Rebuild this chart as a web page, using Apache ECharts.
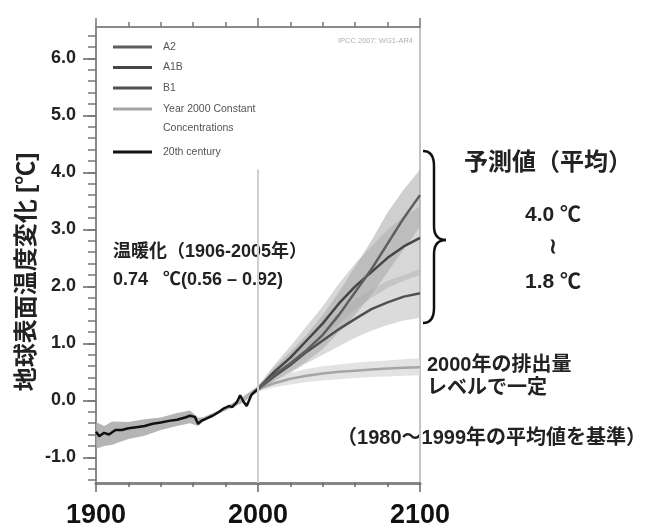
<!DOCTYPE html>
<html><head><meta charset="utf-8">
<script src="https://cdn.jsdelivr.net/npm/echarts@6/dist/echarts.min.js"></script>
<style>html,body{margin:0;padding:0;background:#fff}#c{width:652px;height:532px}</style>
</head><body><div id="c"></div>
<script>
// ---- 20th century observations (model mean) ----
const histYears  = [1900,1902,1905,1908,1912,1916,1920,1925,1930,1935,1940,1945,1950,1955,1958,1961,1963,1965,1968,1972,1976,1979,1982,1984,1987,1989,1991,1993,1996,1998,2000];
const histValues = [-0.55,-0.63,-0.57,-0.6,-0.52,-0.52,-0.49,-0.47,-0.45,-0.41,-0.39,-0.36,-0.34,-0.3,-0.27,-0.29,-0.41,-0.36,-0.32,-0.27,-0.2,-0.14,-0.1,-0.12,-0.03,0.09,-0.02,-0.1,0.1,0.15,0.2];
const histBandYears = [1900,1905,1910,1920,1930,1940,1950,1958,1963,1966,1970,1980,1990,2000];
const histBandUpper = [-0.38,-0.45,-0.37,-0.38,-0.33,-0.3,-0.22,-0.18,-0.3,-0.3,-0.25,-0.12,0.05,0.25];
const histBandLower = [-0.85,-0.8,-0.78,-0.68,-0.62,-0.52,-0.45,-0.4,-0.45,-0.38,-0.32,-0.18,-0.05,0.15];

// ---- projections ----
const projYears = [2000,2010,2020,2030,2040,2050,2060,2070,2080,2090,2100];
const a2Values    = [0.2,0.45,0.65,0.88,1.15,1.5,1.9,2.3,2.75,3.2,3.6];
const a1bValues   = [0.2,0.5,0.75,1.05,1.35,1.7,2.0,2.25,2.5,2.7,2.85];
const b1Values    = [0.2,0.42,0.62,0.85,1.05,1.25,1.43,1.6,1.72,1.82,1.88];
const constValues = [0.2,0.3,0.38,0.43,0.47,0.5,0.52,0.54,0.56,0.57,0.58];
const a2Upper  = [0.25,0.58,0.85,1.15,1.5,1.9,2.35,2.8,3.3,3.7,4.05];
const a2Lower  = [0.15,0.35,0.5,0.68,0.9,1.2,1.5,1.85,2.25,2.65,3.05];
const a1bUpper = [0.25,0.62,0.95,1.3,1.65,2.05,2.4,2.7,3.0,3.22,3.4];
const a1bLower = [0.15,0.4,0.6,0.82,1.08,1.35,1.6,1.8,1.97,2.1,2.2];
const b1Upper  = [0.25,0.52,0.8,1.08,1.32,1.55,1.77,1.95,2.1,2.2,2.3];
const b1Lower  = [0.15,0.33,0.48,0.65,0.8,0.95,1.1,1.22,1.32,1.4,1.45];
const constUpper = [0.25,0.38,0.48,0.55,0.6,0.63,0.66,0.68,0.7,0.72,0.74];
const constLower = [0.15,0.23,0.28,0.32,0.35,0.37,0.39,0.41,0.42,0.43,0.44];

// ---- ticks ----
const xTickLabels = [1900, 2000, 2100];
const yTickLabels = [-1,0,1,2,3,4,5,6];
const yMinorTicks = [-1.4,-1.2,-1,-0.8,-0.6,-0.4,-0.2,0,0.2,0.4,0.6,0.8,1,1.2,1.4,1.6,1.8,2,2.2,2.4,2.6,2.8,3,3.2,3.4,3.6,3.8,4,4.2,4.4,4.6,4.8,5,5.2,5.4,5.6,5.8,6,6.2,6.4];
const dividerYear = 2000, dividerTop = 4.05;

function zip(xs, ys){ return xs.map((x,i)=>[x, ys[i]]); }
function bandSeries(name, years, lower, upper, color, opacity){
  const data = years.map((y,i)=>[y, lower[i], upper[i]]);
  return {
    type:'custom', name, silent:true, z:1, data,
    encode:{x:0, y:[1,2]},
    renderItem(params, api){
      if (params.dataIndex !== 0) return null;
      const top = data.map(d=>api.coord([d[0], d[2]]));
      const bot = data.map(d=>api.coord([d[0], d[1]])).reverse();
      return {type:'polygon', shape:{points: top.concat(bot)}, style:{fill:color, opacity}};
    }
  };
}
function lineSeries(name, xs, ys, color, width){
  return {type:'line', name, data: zip(xs, ys), showSymbol:false, symbol:'none', z:3,
    lineStyle:{color, width}, itemStyle:{color}, silent:true};
}

const CJK = '"Liberation Sans","Noto Sans CJK JP",sans-serif';
const legendText = {fontSize:10.5, color:'#555', fontFamily:'"Liberation Sans"', padding:[0,0,0,6], lineHeight:12};
const braceStyle = {stroke:'#111', lineWidth:2.5, fill:null};
const legendBase = {orient:'vertical', left:113, padding:0, itemWidth:39, itemHeight:3, icon:'rect', selectedMode:false, textStyle:legendText};

const chart = echarts.init(document.getElementById('c'), null, {renderer:'canvas'});
chart.setOption({
  animation:false,
  backgroundColor:'#fff',
  grid:{left:96, right:232, top:27, bottom:49},
  xAxis:[
    {type:'value', min:1900, max:2100, interval:100, position:'bottom',
     axisLine:{show:true, onZero:false, lineStyle:{color:'#858585', width:3}},
     axisTick:{show:true, length:9, lineStyle:{color:'#666', width:1.5}},
     minorTick:{show:true, splitNumber:5, length:4, lineStyle:{color:'#666', width:1.5}},
     axisLabel:{show:true, fontSize:27, fontWeight:'bold', fontFamily:'"Liberation Sans"', color:'#111', margin:19,
       formatter: v => xTickLabels.includes(v) ? String(v) : ''},
     splitLine:{show:false}},
    {type:'value', min:1900, max:2100, interval:100, position:'top',
     axisLine:{show:true, onZero:false, lineStyle:{color:'#8a8a8a', width:2}},
     axisTick:{show:true, length:9, lineStyle:{color:'#777', width:1.5}},
     minorTick:{show:true, splitNumber:5, length:5, lineStyle:{color:'#777', width:1.5}},
     axisLabel:{show:false}, splitLine:{show:false}}
  ],
  yAxis:[
    {type:'value', min:-1.45, max:6.55, position:'left',
     axisLine:{show:true, onZero:false, lineStyle:{color:'#8a8a8a', width:2}},
     axisTick:{show:true, customValues:yTickLabels, length:13, lineStyle:{color:'#666', width:1.5}},
     axisLabel:{show:true, customValues:yTickLabels, formatter:v=>Number(v).toFixed(1), fontSize:18, fontWeight:'bold', fontFamily:'"Liberation Sans"', color:'#222', margin:20},
     splitLine:{show:false},
     name:'地球表面温度変化 [℃]', nameLocation:'middle', nameRotate:90, nameGap:57,
     nameTextStyle:{fontSize:24, fontWeight:'bold', fontFamily:CJK, color:'#222', padding:[0,34,0,0]}},
    {type:'value', min:-1.45, max:6.55, position:'left',
     axisLine:{show:false, onZero:false},
     axisTick:{show:true, customValues:yMinorTicks, length:8, lineStyle:{color:'#777', width:1.5}},
     axisLabel:{show:false}, splitLine:{show:false}},
    {type:'value', min:-1.45, max:6.55, position:'right',
     axisLine:{show:true, onZero:false, lineStyle:{color:'#c4c4c4', width:2}},
     axisTick:{show:false}, axisLabel:{show:false}, splitLine:{show:false}}
  ],
  legend:[
    Object.assign({}, legendBase, {data:['A2','A1B','B1'], top:41, itemGap:8.5}),
    Object.assign({}, legendBase, {data:['Year 2000 Constant Concentrations'], top:103, formatter:()=>'Year 2000 Constant'}),
    Object.assign({}, legendBase, {data:['20th century'], top:146})
  ],
  series:[
    {type:'line', name:'divider', data:[], silent:true, z:0,
     markLine:{silent:true, symbol:['none','none'], label:{show:false}, lineStyle:{color:'#cfcfcf', width:2, type:'solid'},
       data:[[{coord:[dividerYear, dividerTop]},{coord:[dividerYear, -1.45]}]]}},
    bandSeries('histBand', histBandYears, histBandLower, histBandUpper, '#a8a8a8', 0.85),
    bandSeries('constBand', projYears, constLower, constUpper, '#dcdcdc', 0.8),
    bandSeries('b1Band', projYears, b1Lower, b1Upper, '#b8b8b8', 0.5),
    bandSeries('a1bBand', projYears, a1bLower, a1bUpper, '#b0b0b0', 0.5),
    bandSeries('a2Band', projYears, a2Lower, a2Upper, '#a8a8a8', 0.55),
    lineSeries('Year 2000 Constant Concentrations', projYears, constValues, '#a5a5a5', 2.5),
    lineSeries('B1', projYears, b1Values, '#505050', 2.5),
    lineSeries('A1B', projYears, a1bValues, '#454545', 2.5),
    lineSeries('A2', projYears, a2Values, '#5e5e5e', 2.5),
    lineSeries('20th century', histYears, histValues, '#111111', 2.5)
  ],
  graphic:[
    {type:'text', x:413, y:41, style:{text:'IPCC 2007: WG1-AR4', font:'7.5px "Liberation Sans"', fill:'#b0b0b0', align:'right', verticalAlign:'middle'}},
    {type:'text', x:163, y:128, style:{text:'Concentrations', font:'10.5px "Liberation Sans"', fill:'#555', align:'left', verticalAlign:'middle'}},
    {type:'text', x:113, y:252, style:{text:'温暖化（1906-2005年）', font:'bold 18px '+CJK, fill:'#222', align:'left', verticalAlign:'middle'}},
    {type:'text', x:113, y:280, style:{text:'0.74   ℃(0.56 – 0.92)', font:'bold 18px '+CJK, fill:'#222', align:'left', verticalAlign:'middle'}},
    {type:'bezierCurve', shape:{x1:423, y1:151, cpx1:434, cpy1:151, x2:434, y2:166}, style:braceStyle},
    {type:'line', shape:{x1:434, y1:166, x2:434, y2:226}, style:braceStyle},
    {type:'bezierCurve', shape:{x1:434, y1:226, cpx1:434, cpy1:240, x2:446, y2:240}, style:braceStyle},
    {type:'bezierCurve', shape:{x1:446, y1:240, cpx1:434, cpy1:240, x2:434, y2:254}, style:braceStyle},
    {type:'line', shape:{x1:434, y1:254, x2:434, y2:308}, style:braceStyle},
    {type:'bezierCurve', shape:{x1:434, y1:308, cpx1:434, cpy1:323, x2:423, y2:323}, style:braceStyle},
    {type:'text', x:548, y:163, style:{text:'予測値（平均）', font:'bold 24px '+CJK, fill:'#222', align:'center', verticalAlign:'middle'}},
    {type:'text', x:553, y:215, style:{text:'4.0 ℃', font:'bold 21px '+CJK, fill:'#222', align:'center', verticalAlign:'middle'}},
    {type:'text', x:553, y:247, style:{text:'≀', font:'bold 21px '+CJK, fill:'#222', align:'center', verticalAlign:'middle'}},
    {type:'text', x:553, y:282, style:{text:'1.8 ℃', font:'bold 21px '+CJK, fill:'#222', align:'center', verticalAlign:'middle'}},
    {type:'text', x:427, y:365, style:{text:'2000年の排出量', font:'bold 20px '+CJK, fill:'#222', align:'left', verticalAlign:'middle'}},
    {type:'text', x:427, y:388, style:{text:'レベルで一定', font:'bold 20px '+CJK, fill:'#222', align:'left', verticalAlign:'middle'}},
    {type:'text', x:646, y:438, style:{text:'（1980～1999年の平均値を基準）', font:'bold 20px '+CJK, fill:'#222', align:'right', verticalAlign:'middle'}}
  ]
});
</script></body></html>
